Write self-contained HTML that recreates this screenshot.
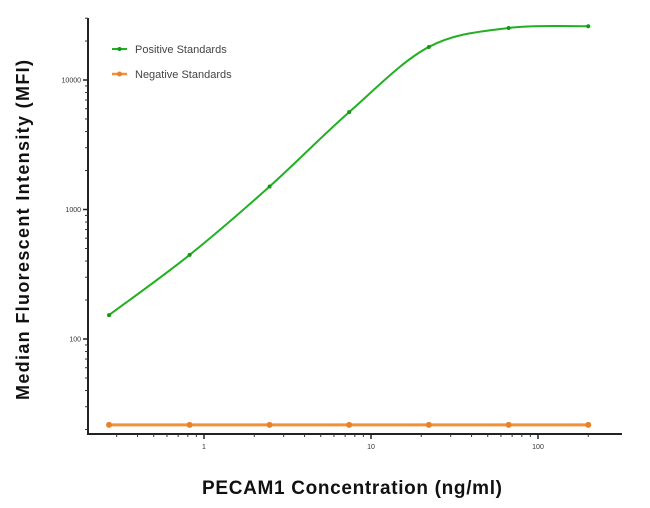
<!DOCTYPE html>
<html><head><meta charset="utf-8"><style>
body{margin:0;background:#fff;}
svg{display:block;font-family:"Liberation Sans",sans-serif;}
</style></head><body>
<svg width="650" height="508" viewBox="0 0 650 508">
<g id="axes"></g>
<g id="plot"></g>
<g id="legend">
<line x1="112" y1="49" x2="127" y2="49" stroke="#22b022" stroke-width="2"/>
<circle cx="119.5" cy="49" r="2" fill="#119911"/>
<text x="135" y="53" font-size="11" fill="#444">Positive Standards</text>
<line x1="112" y1="74" x2="127" y2="74" stroke="#f0903a" stroke-width="2.5"/>
<circle cx="119.5" cy="74" r="2.5" fill="#e8822a"/>
<text x="135" y="78" font-size="11" fill="#444">Negative Standards</text>
</g>
<text x="352" y="494" font-size="19" font-weight="bold" text-anchor="middle" fill="#111" textLength="300" lengthAdjust="spacing">PECAM1 Concentration (ng/ml)</text>
<text transform="translate(29,230) rotate(-90)" font-size="18" font-weight="bold" text-anchor="middle" fill="#111" textLength="340" lengthAdjust="spacing">Median  Fluorescent Intensity  (MFI)</text>
</svg>
<script>
const concentrations=[0.27,0.82,2.47,7.4,22.2,66.7,200];
const positiveMFI=[153,446,1505,5650,18000,25200,26000];
const negativeMFI=[21.7,21.7,21.7,21.7,21.7,21.7,21.7];
const xTicks=[1,10,100];
const xTickLabels=["1","10","100"];
const yTicks=[100,1000,10000];
const yTickLabels=["100","1000","10000"];
const NS="http://www.w3.org/2000/svg";
function X(v){return 204+167*Math.log10(v);}
function Y(v){return 339-129.5*(Math.log10(v)-2);}
function mk(t,a,p){const e=document.createElementNS(NS,t);for(const k in a)e.setAttribute(k,a[k]);p.appendChild(e);return e;}
const axes=document.getElementById('axes'),plot=document.getElementById('plot');
let yax=mk('line',{x1:88,y1:18,x2:88,y2:434,stroke:'#222','stroke-width':2},axes);


let xax=mk('line',{x1:87,y1:434,x2:622,y2:434,stroke:'#222','stroke-width':2},axes);


for(let d=10;d<=30000;d*=10){for(let m=1;m<10;m++){const v=d*m;if(v<19||v>30000)continue;const y=Y(v);mk('line',{x1:85,y1:y,x2:88,y2:y,stroke:'#333','stroke-width':1},axes);}}
yTicks.forEach((v,i)=>{const y=Y(v);mk('line',{x1:83,y1:y,x2:88,y2:y,stroke:'#222','stroke-width':1.5},axes);
const t=mk('text',{x:81,y:y+2.5,'font-size':7,'text-anchor':'end',fill:'#333'},axes);t.textContent=yTickLabels[i];

});
for(let d=0.1;d<=100;d*=10){for(let m=1;m<10;m++){const v=d*m;if(v<0.26||v>210)continue;const x=X(v);mk('line',{x1:x,y1:434,x2:x,y2:437,stroke:'#333','stroke-width':1},axes);}}
xTicks.forEach((v,i)=>{const x=X(v);mk('line',{x1:x,y1:434,x2:x,y2:439,stroke:'#222','stroke-width':1.5},axes);
const t=mk('text',{x:x,y:449,'font-size':7,'text-anchor':'middle',fill:'#333'},axes);t.textContent=xTickLabels[i];

});
function spline(pts){let d=`M${pts[0][0]},${pts[0][1]}`;for(let i=0;i<pts.length-1;i++){const p0=pts[i-1]||pts[i],p1=pts[i],p2=pts[i+1],p3=pts[i+2]||p2;
d+=` C${p1[0]+(p2[0]-p0[0])/6},${p1[1]+(p2[1]-p0[1])/6} ${p2[0]-(p3[0]-p1[0])/6},${p2[1]-(p3[1]-p1[1])/6} ${p2[0]},${p2[1]}`;}return d;}
const neg=concentrations.map((c,i)=>[X(c),Y(negativeMFI[i])]);
let nl=mk('path',{d:spline(neg),fill:'none',stroke:'#f0903a','stroke-width':3},plot);


neg.forEach(p=>{const c=mk('circle',{cx:p[0],cy:p[1],r:3,fill:'#e8822a'},plot);

});
const pos=concentrations.map((c,i)=>[X(c),Y(positiveMFI[i])]);
let pl=mk('path',{d:spline(pos),fill:'none',stroke:'#22b022','stroke-width':2},plot);


pos.forEach(p=>{const c=mk('circle',{cx:p[0],cy:p[1],r:2,fill:'#119911'},plot);

});
</script>
</body></html>
